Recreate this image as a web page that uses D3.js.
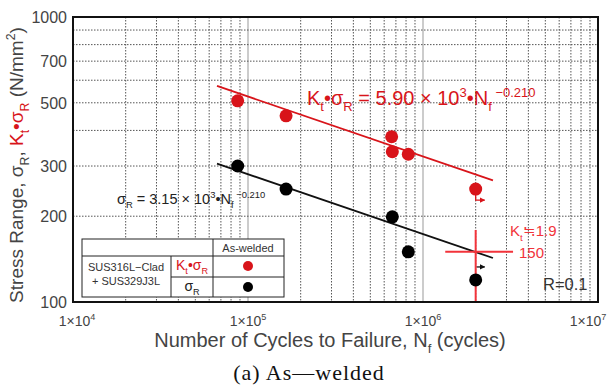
<!DOCTYPE html>
<html>
<head>
<meta charset="utf-8">
<script src="https://cdn.jsdelivr.net/npm/d3@7"></script>
<style>
  body { margin: 0; background: #fff; }
  svg { font-family: "Liberation Sans", Arial, sans-serif; }
  .grid-minor { stroke: #555; stroke-width: 1; stroke-dasharray: 1.5,1.5; }
  .grid-major { stroke: #bbb; stroke-width: 1.5; }
  .tick-label { fill: #444; }
</style>
</head>
<body>
<svg id="chart" width="614" height="385"></svg>
<script>
// K_t * sigma_R (red) and sigma_R (black), as-welded
const redCycles = [87300, 165000, 662000, 668000, 824000, 2000000];
const redStress = [508, 450, 380, 337, 330, 249];
const blackCycles = [87300, 165000, 668000, 824000, 2000000];
const blackStress = [300, 249, 199, 150, 119.5];
const runoutCycles = 2000000; // last point of each series is a run-out

const fitExponent = -0.210;
const redCoef = 5900;
const blackCoef = 3150;
const fitRange = [66500, 2510000];

const yTicks = [100, 200, 300, 500, 700, 1000];
const yGrid = [200, 300, 400, 500, 600, 700, 800, 900];
const xTicks = [1e4, 1e5, 1e6, 1e7];
const xMajorGrid = [1e5, 1e6];
const decades = [1e4, 1e5, 1e6];

const kt = 1.9;
const ktStress = 150;

const RED = '#d8141a';
const RED_LIGHT = '#f2333a';

const svg = d3.select('#chart');

const x = d3.scaleLog().domain([1e4, 1e7]).range([73, 598]);
const y = d3.scaleLog().domain([100, 1000]).range([302, 17]);

// helper for text with sub/superscripts
function rich(sel, parts, size) {
    let shift = 0;
    parts.forEach(p => {
        const target = p.sub ? size * 0.3 : (p.sup ? -size * 0.42 : 0);
        const ts = sel.append('tspan')
            .attr('dy', target - shift)
            .text(p.t);
        if (p.sub || p.sup) ts.attr('font-size', size * 0.65);
        if (p.fill) ts.attr('fill', p.fill);
        shift = target;
    });
}

// grid
const minorX = [];
decades.forEach(d => { for (let k = 2; k <= 9; k++) minorX.push(d * k); });

svg.append('g').selectAll('line')
    .data(minorX)
    .enter()
    .append('line')
    .classed('grid-minor', true)
    .attr('x1', d => x(d)).attr('x2', d => x(d))
    .attr('y1', y(1000)).attr('y2', y(100));

svg.append('g').selectAll('line')
    .data(xMajorGrid)
    .enter()
    .append('line')
    .classed('grid-major', true)
    .attr('x1', d => x(d)).attr('x2', d => x(d))
    .attr('y1', y(1000)).attr('y2', y(100));

svg.append('g').selectAll('line')
    .data(yGrid)
    .enter()
    .append('line')
    .classed('grid-minor', true)
    .attr('x1', x(1e4)).attr('x2', x(1e7))
    .attr('y1', d => y(d)).attr('y2', d => y(d));

// y tick labels
svg.append('g').selectAll('text')
    .data(yTicks)
    .enter()
    .append('text')
    .classed('tick-label', true)
    .attr('x', 67)
    .attr('y', d => y(d) + 6)
    .attr('text-anchor', 'end')
    .attr('font-size', 16)
    .text(d => d);

// x tick labels (end labels pulled inside the window)
svg.append('g').selectAll('text')
    .data(xTicks)
    .enter()
    .append('text')
    .classed('tick-label', true)
    .attr('x', d => Math.min(Math.max(x(d), 77), 588))
    .attr('y', 326)
    .attr('text-anchor', 'middle')
    .attr('font-size', 14)
    .each(function (d) {
        rich(d3.select(this), [{ t: '1×10' }, { t: String(Math.round(Math.log10(d))), sup: true }], 14);
    });

// fit lines
const fitLine = coef => d3.line()
    .x(d => x(d))
    .y(d => y(coef * Math.pow(d, fitExponent)));

svg.append('path')
    .datum(fitRange)
    .attr('d', fitLine(redCoef))
    .attr('stroke', RED)
    .attr('stroke-width', 1.8)
    .attr('fill', 'none');

svg.append('path')
    .datum(fitRange)
    .attr('d', fitLine(blackCoef))
    .attr('stroke', '#111')
    .attr('stroke-width', 1.8)
    .attr('fill', 'none');

// Kt cross
svg.append('line')
    .attr('x1', x(1.34e6)).attr('x2', x(3.27e6))
    .attr('y1', y(ktStress)).attr('y2', y(ktStress))
    .attr('stroke', RED_LIGHT).attr('stroke-width', 2);
svg.append('line')
    .attr('x1', x(runoutCycles)).attr('x2', x(runoutCycles))
    .attr('y1', y(179)).attr('y2', y(100))
    .attr('stroke', RED_LIGHT).attr('stroke-width', 2);

const ktText = svg.append('text')
    .attr('x', 510).attr('y', 236)
    .attr('font-size', 15)
    .attr('fill', RED_LIGHT);
rich(ktText, [{ t: 'K' }, { t: 't', sub: true }, { t: '≒' + kt }], 15);
svg.append('text')
    .attr('x', 519).attr('y', 258)
    .attr('font-size', 15)
    .attr('fill', RED_LIGHT)
    .text(ktStress);

// run-out arrows
svg.append('defs').selectAll('marker')
    .data([['arrowRed', RED], ['arrowBlack', '#111']])
    .enter()
    .append('marker')
    .attr('id', d => d[0])
    .attr('viewBox', '0 0 10 10')
    .attr('refX', 9).attr('refY', 5)
    .attr('markerWidth', 4).attr('markerHeight', 4)
    .attr('orient', 'auto')
    .append('path')
    .attr('d', 'M0,0L10,5L0,10z')
    .attr('fill', d => d[1]);

const rx = x(runoutCycles);
const ry = y(redStress[redStress.length - 1]);
svg.append('path')
    .attr('d', `M${rx},${ry}V${ry + 11}H${rx + 9}`)
    .attr('stroke', RED).attr('stroke-width', 1.3).attr('fill', 'none')
    .attr('marker-end', 'url(#arrowRed)');

const by = y(blackStress[blackStress.length - 1]);
svg.append('path')
    .attr('d', `M${rx + 1},${by - 13}H${rx + 9}`)
    .attr('stroke', '#111').attr('stroke-width', 1.3).attr('fill', 'none')
    .attr('marker-end', 'url(#arrowBlack)');

// points
svg.append('g').selectAll('circle')
    .data(d3.zip(redCycles, redStress))
    .enter()
    .append('circle')
    .attr('cx', d => x(d[0]))
    .attr('cy', d => y(d[1]))
    .attr('r', 6.5)
    .attr('fill', RED);

svg.append('g').selectAll('circle')
    .data(d3.zip(blackCycles, blackStress))
    .enter()
    .append('circle')
    .attr('cx', d => x(d[0]))
    .attr('cy', d => y(d[1]))
    .attr('r', 6.5)
    .attr('fill', '#000');

// equations
const redEq = svg.append('text')
    .attr('x', 307).attr('y', 105)
    .attr('font-size', 20)
    .attr('fill', RED);
rich(redEq, [
    { t: 'K' }, { t: 't', sub: true }, { t: '•σ' }, { t: 'R', sub: true },
    { t: ' = 5.90 × 10' }, { t: '3', sup: true }, { t: '•N' }, { t: 'f', sub: true },
    { t: ' −0.210', sup: true }
], 20);

const blackEq = svg.append('text')
    .attr('x', 117).attr('y', 204)
    .attr('font-size', 14.5)
    .attr('fill', '#222');
rich(blackEq, [
    { t: 'σ' }, { t: 'R', sub: true },
    { t: ' = 3.15 × 10' }, { t: '3', sup: true }, { t: '•N' }, { t: 'f', sub: true },
    { t: ' −0.210', sup: true }
], 14.5);

svg.append('text')
    .attr('x', 543).attr('y', 290)
    .attr('font-size', 16.5)
    .attr('fill', '#333')
    .text('R=0.1');

// legend table
const lg = svg.append('g').attr('stroke', '#222').attr('stroke-width', 1);
lg.append('rect').attr('x', 82).attr('y', 239).attr('width', 202).attr('height', 58)
    .attr('fill', '#fff');
lg.append('line').attr('x1', 82).attr('x2', 284).attr('y1', 256).attr('y2', 256);
lg.append('line').attr('x1', 171).attr('x2', 284).attr('y1', 277).attr('y2', 277);
lg.append('line').attr('x1', 171).attr('x2', 171).attr('y1', 256).attr('y2', 297);
lg.append('line').attr('x1', 213).attr('x2', 213).attr('y1', 239).attr('y2', 297);

svg.append('text').attr('x', 248).attr('y', 252).attr('text-anchor', 'middle')
    .attr('font-size', 11).attr('fill', '#333').text('As-welded');
svg.append('text').attr('x', 126).attr('y', 271).attr('text-anchor', 'middle')
    .attr('font-size', 11).attr('fill', '#333').text('SUS316L−Clad');
svg.append('text').attr('x', 126).attr('y', 285).attr('text-anchor', 'middle')
    .attr('font-size', 11).attr('fill', '#333').text('+ SUS329J3L');

const lgRed = svg.append('text').attr('x', 192).attr('y', 270).attr('text-anchor', 'middle')
    .attr('font-size', 14).attr('fill', RED);
rich(lgRed, [{ t: 'K' }, { t: 't', sub: true }, { t: '•σ' }, { t: 'R', sub: true }], 14);
const lgBlack = svg.append('text').attr('x', 192).attr('y', 291).attr('text-anchor', 'middle')
    .attr('font-size', 14).attr('fill', '#222');
rich(lgBlack, [{ t: 'σ' }, { t: 'R', sub: true }], 14);

svg.append('circle').attr('cx', 248).attr('cy', 266).attr('r', 5).attr('fill', RED);
svg.append('circle').attr('cx', 248).attr('cy', 287).attr('r', 5).attr('fill', '#000');

// frame
svg.append('rect')
    .attr('x', x(1e4)).attr('y', y(1000))
    .attr('width', x(1e7) - x(1e4))
    .attr('height', y(100) - y(1000))
    .attr('fill', 'none')
    .attr('stroke', '#111')
    .attr('stroke-width', 2);

// axis titles
const yTitle = svg.append('text')
    .attr('transform', 'translate(23,165) rotate(-90)')
    .attr('text-anchor', 'middle')
    .attr('font-size', 19)
    .attr('fill', '#444');
rich(yTitle, [
    { t: 'Stress Range, σ' }, { t: 'R', sub: true }, { t: ', ' },
    { t: 'K', fill: RED }, { t: 't', sub: true, fill: RED }, { t: '•σ', fill: RED }, { t: 'R', sub: true, fill: RED },
    { t: ' (N/mm' }, { t: '2', sup: true }, { t: ')' }
], 19);

const xTitle = svg.append('text')
    .attr('x', 330).attr('y', 347)
    .attr('text-anchor', 'middle')
    .attr('font-size', 20)
    .attr('fill', '#444');
rich(xTitle, [{ t: 'Number of Cycles to Failure, N' }, { t: 'f', sub: true }, { t: ' (cycles)' }], 20);

svg.append('text')
    .attr('x', 309).attr('y', 380)
    .attr('text-anchor', 'middle')
    .attr('font-family', '"Liberation Serif", "DejaVu Serif", serif')
    .attr('font-size', 22)
    .attr('letter-spacing', 1)
    .attr('fill', '#111')
    .text('(a) As—welded');
</script>
</body>
</html>
